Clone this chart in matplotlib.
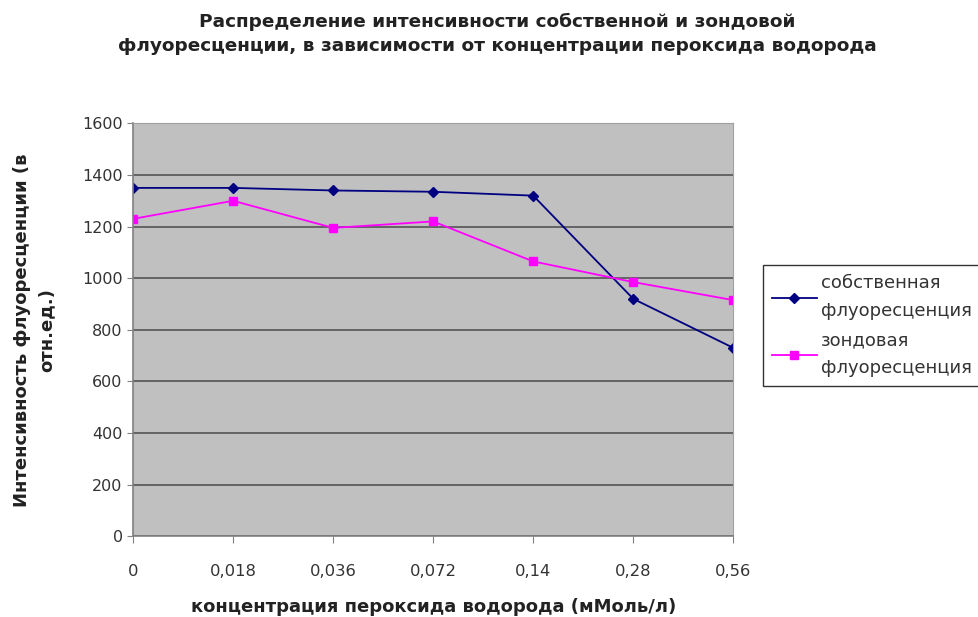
import matplotlib
matplotlib.use("Agg")
import matplotlib.pyplot as plt

plt.rcParams['font.family'] = ['DejaVu Sans']

categories = ["0", "0,018", "0,036", "0,072", "0,14", "0,28", "0,56"]
own = [1350, 1350, 1340, 1335, 1320, 920, 730]
probe = [1230, 1300, 1195, 1220, 1065, 985, 915]
series_names = ["собственная\nфлуоресценция", "зондовая\nфлуоресценция"]
yticks = [0, 200, 400, 600, 800, 1000, 1200, 1400, 1600]

fig = plt.figure(figsize=(9.79, 6.17), dpi=100)
ax = fig.add_axes([0.136, 0.131, 0.613, 0.669])
ax.set_facecolor('#c0c0c0')
x = list(range(len(categories)))
l1, = ax.plot(x, own, color='#000080', marker='D', markersize=5, linewidth=1.3)
l2, = ax.plot(x, probe, color='#ff00ff', marker='s', markersize=6, linewidth=1.3)
ax.set_xlim(0, len(categories) - 1)
ax.set_ylim(0, 1600)
ax.set_yticks(yticks)
ax.set_xticks(x)
ax.set_xticklabels(categories, fontsize=11.8, color='#333333')
ax.tick_params(axis='x', length=5, color='#808080', pad=15)
ax.tick_params(axis='y', labelsize=11.5, length=4, color='#808080',
               labelcolor='#333333')
ax.yaxis.grid(True, color='#555555', linewidth=1.2)
ax.set_axisbelow(True)
for s in ['top', 'right']:
    ax.spines[s].set_color('#a0a0a0')
for s in ['left', 'bottom']:
    ax.spines[s].set_color('#808080')
    ax.spines[s].set_linewidth(1.2)

ax.set_xlabel("концентрация пероксида водорода (мМоль/л)", fontsize=13,
              fontweight='bold', labelpad=14, color='#222222')
ax.set_ylabel("Интенсивность флуоресценции (в\nотн.ед.)", fontsize=13,
              fontweight='bold', labelpad=19, color='#222222', linespacing=1.5)
fig.text(0.508, 0.945, "Распределение интенсивности собственной и зондовой\n"
         "флуоресценции, в зависимости от концентрации пероксида водорода",
         ha='center', va='center', fontsize=13.3, fontweight='bold',
         linespacing=1.45, color='#222222')

leg = fig.legend([l1, l2], series_names, loc='upper left',
                 bbox_to_anchor=(0.779, 0.5705), borderaxespad=0, fontsize=13,
                 frameon=True, fancybox=False, edgecolor='black',
                 handlelength=2.5, handletextpad=0.25, labelspacing=0.62,
                 borderpad=0.5)
leg.get_frame().set_linewidth(1.0)
for t in leg.get_texts():
    t.set_linespacing(1.7)
    t.set_color('#333333')

fig.savefig("out.png", dpi=100)
